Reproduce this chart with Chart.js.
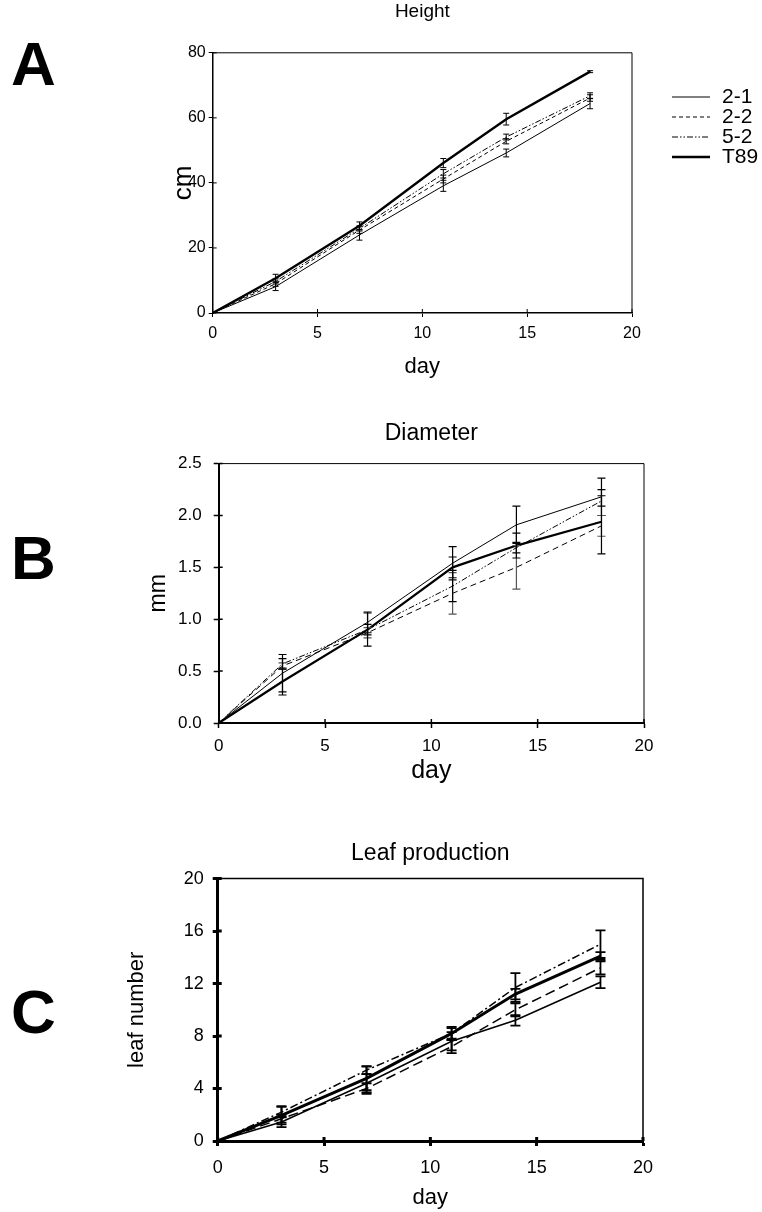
<!DOCTYPE html>
<html>
<head>
<meta charset="utf-8">
<title>Height, diameter and leaf production</title>
<script src="https://cdn.jsdelivr.net/npm/chart.js@4.4.1/dist/chart.umd.min.js"></script>
<style>
  html, body { margin: 0; padding: 0; background: #fff; }
  body { width: 762px; height: 1212px; position: relative; overflow: hidden; font-family: "Liberation Sans", Arial, sans-serif; }
  .panel { position: absolute; font-weight: bold; font-size: 62px; line-height: 1; color: #000; }
  canvas { position: absolute; }
</style>
</head>
<body>
<div class="panel" style="left:11px;top:33px">A</div>
<div class="panel" style="left:11px;top:527px">B</div>
<div class="panel" style="left:11px;top:981px">C</div>
<canvas id="heightChart" style="left:130px;top:0px" width="632" height="395"></canvas>
<canvas id="diameterChart" style="left:110px;top:400px" width="652" height="390"></canvas>
<canvas id="leafChart" style="left:100px;top:820px" width="662" height="392"></canvas>
<script>
// === Data ===
const days = [0, 3, 7, 11, 14, 18];
const lines = ['2-1', '2-2', '5-2', 'T89'];

// Height (cm)
const height21 = [0, 8.1, 24.0, 39.1, 49.2, 64.4];
const height22 = [0, 9.0, 25.5, 41.2, 52.8, 66.1];
const height52 = [0, 9.7, 26.0, 42.8, 54.1, 66.8];
const heightT89 = [0, 10.7, 26.8, 46.1, 59.6, 74.2];
const heightErr21 = [0, 1.2, 1.6, 1.7, 1.2, 1.6];
const heightErr22 = [0, 0.8, 1.0, 1.2, 0.8, 1.0];
const heightErr52 = [0, 0.8, 0.8, 1.3, 0.9, 0.9];
const heightErrT89 = [0, 1.2, 1.2, 1.4, 1.8, 0.3];

// Diameter (mm)
const diam21 = [0, 0.48, 0.97, 1.54, 1.91, 2.18];
const diam22 = [0, 0.55, 0.87, 1.25, 1.50, 1.90];
const diam52 = [0, 0.57, 0.90, 1.32, 1.69, 2.14];
const diamT89 = [0, 0.40, 0.90, 1.50, 1.71, 1.94];
const diamErr21 = [0, 0.18, 0.10, 0.16, 0.18, 0.18];
const diamErr22 = [0, 0.03, 0.05, 0.20, 0.21, 0.10];
const diamErr52 = [0, 0.05, 0.05, 0.15, 0.05, 0.05];
const diamErrT89 = [0, 0.13, 0.16, 0.10, 0.12, 0.31];

// Leaf number
const leaf21 = [0, 1.45, 4.4, 7.6, 9.2, 12.1];
const leaf22 = [0, 1.7, 4.0, 7.2, 10.0, 13.2];
const leaf52 = [0, 2.2, 5.4, 8.2, 11.7, 15.0];
const leafT89 = [0, 1.96, 4.77, 8.2, 11.2, 14.1];
const leafErr21 = [0, 0.4, 0.7, 0.7, 0.4, 0.45];
const leafErr22 = [0, 0.3, 0.4, 0.5, 0.5, 0.5];
const leafErr52 = [0, 0.4, 0.3, 0.4, 1.1, 1.05];
const leafErrT89 = [0, 0.7, 0.9, 0.5, 0.4, 0.3];

const dayTicks = [0, 5, 10, 15, 20];
const heightTicks = [0, 20, 40, 60, 80];
const diamTicks = [0, 0.5, 1.0, 1.5, 2.0, 2.5];
const leafTicks = [0, 4, 8, 12, 16, 20];

const FONT = '"Liberation Sans", Arial, sans-serif';

document.addEventListener('DOMContentLoaded', function () {

  // === Error bars, drawn through the chart's own scales ===
  const errorBars = {
    id: 'errorBars',
    afterDatasetsDraw(chart, args, opts) {
      const ctx = chart.ctx;
      const yScale = chart.scales.y;
      ctx.save();
      chart.data.datasets.forEach((ds, di) => {
        if (!ds.errors) return;
        const meta = chart.getDatasetMeta(di);
        ctx.strokeStyle = ds.errColor || '#000';
        ctx.lineWidth = opts.width || 1;
        ctx.setLineDash([]);
        meta.data.forEach((pt, i) => {
          const e = ds.errors[i];
          if (!e) return;
          const v = ds.data[i].y;
          const top = yScale.getPixelForValue(v + e);
          const bot = yScale.getPixelForValue(v - e);
          const c = opts.cap;
          ctx.beginPath();
          ctx.moveTo(pt.x, top); ctx.lineTo(pt.x, bot);
          ctx.moveTo(pt.x - c, top); ctx.lineTo(pt.x + c, top);
          ctx.moveTo(pt.x - c, bot); ctx.lineTo(pt.x + c, bot);
          ctx.stroke();
        });
      });
      ctx.restore();
    }
  };

  // === Top/right frame and ticks pointing into the plot ===
  const frame = {
    id: 'frame',
    afterDraw(chart, args, opts) {
      const { ctx, chartArea: a, scales } = chart;
      ctx.save();
      ctx.strokeStyle = '#000';
      ctx.lineWidth = opts.width;
      ctx.beginPath();
      ctx.moveTo(a.left, a.top); ctx.lineTo(a.right, a.top); ctx.lineTo(a.right, a.bottom);
      ctx.stroke();
      ctx.lineWidth = opts.tickWidth;
      ctx.beginPath();
      scales.x.ticks.forEach(t => {
        const px = scales.x.getPixelForValue(t.value);
        ctx.moveTo(px, a.bottom); ctx.lineTo(px, a.bottom - opts.inner);
      });
      scales.y.ticks.forEach(t => {
        const py = scales.y.getPixelForValue(t.value);
        ctx.moveTo(a.left, py); ctx.lineTo(a.left + opts.inner, py);
      });
      ctx.stroke();
      ctx.restore();
    }
  };

  // === Legend with line samples (panel A only) ===
  const lineLegend = {
    id: 'lineLegend',
    afterDraw(chart, args, opts) {
      if (!opts.show) return;
      const ctx = chart.ctx;
      ctx.save();
      ctx.font = opts.font;
      ctx.fillStyle = '#000';
      ctx.textBaseline = 'middle';
      chart.data.datasets.forEach((ds, i) => {
        const y = opts.y + i * opts.step;
        ctx.strokeStyle = '#000';
        ctx.lineWidth = ds.borderWidth;
        ctx.setLineDash(ds.borderDash || []);
        ctx.beginPath();
        ctx.moveTo(opts.x, y); ctx.lineTo(opts.x + opts.len, y);
        ctx.stroke();
        ctx.fillText(ds.label, opts.x + opts.len + opts.gap, y);
      });
      ctx.restore();
    }
  };

  function series(values, errors, styles) {
    return lines.map((name, k) => ({
      label: name,
      data: days.map((d, i) => ({ x: d, y: values[k][i] })),
      errors: errors[k],
      errColor: styles[k].err,
      borderColor: '#000',
      borderWidth: styles[k].w,
      borderDash: styles[k].dash,
      pointRadius: 0,
      tension: 0,
      fill: false,
      clip: false
    }));
  }

  function makeChart(id, p) {
    const el = document.getElementById(id);
    return new Chart(el, {
      type: 'line',
      data: { datasets: series(p.values, p.errors, p.styles) },
      options: {
        responsive: false,
        animation: false,
        events: [],
        layout: { padding: { top: 0, right: p.padRight, bottom: 0, left: 0 } },
        plugins: {
          legend: { display: false },
          tooltip: { enabled: false },
          title: {
            display: true,
            text: p.title,
            fullSize: false,
            color: '#000',
            font: { family: FONT, size: p.titleSize, weight: 'normal', lineHeight: 1.2 },
            padding: { top: p.titleTop, bottom: p.titleBottom }
          },
          errorBars: { cap: p.cap, width: p.errWidth },
          frame: { width: p.frameWidth, tickWidth: p.tickWidth, inner: 4 },
          lineLegend: p.legend || { show: false }
        },
        scales: {
          x: {
            type: 'linear', min: 0, max: 20,
            afterBuildTicks: s => { s.ticks = dayTicks.map(v => ({ value: v })); },
            afterFit: s => { s.height = p.xHeight; },
            border: { display: true, color: '#000', width: p.axisWidth },
            grid: { drawOnChartArea: false, drawTicks: true, tickLength: p.tickLen, tickWidth: p.tickWidth, tickColor: '#000' },
            ticks: { color: '#000', padding: p.xPad, maxRotation: 0, font: { family: FONT, size: p.tickSize } },
            title: {
              display: true, text: 'day', color: '#000',
              font: { family: FONT, size: p.xTitleSize, lineHeight: 1.2 },
              padding: { top: 0, bottom: p.xTitleBottom }
            }
          },
          y: {
            type: 'linear', min: 0, max: p.yMax,
            afterBuildTicks: s => { s.ticks = p.yTicks.map(v => ({ value: v })); },
            afterFit: s => { s.width = p.yWidth; },
            border: { display: true, color: '#000', width: p.axisWidth },
            grid: { drawOnChartArea: false, drawTicks: true, tickLength: p.tickLen, tickWidth: p.tickWidth, tickColor: '#000' },
            ticks: { color: '#000', padding: p.yPad, font: { family: FONT, size: p.tickSize }, callback: p.fmt },
            title: {
              display: true, text: p.yTitle, color: '#000',
              font: { family: FONT, size: p.yTitleSize, lineHeight: 1.2 },
              padding: { top: p.yTitleTop, bottom: 0 }
            }
          }
        }
      },
      plugins: [errorBars, frame, lineLegend]
    });
  }

  // === A: Height ===
  makeChart('heightChart', {
    values: [height21, height22, height52, heightT89],
    errors: [heightErr21, heightErr22, heightErr52, heightErrT89],
    styles: [{ w: 1, dash: [] }, { w: 1, dash: [4, 3] }, { w: 1, dash: [6, 2, 1.5, 2, 1.5, 2] }, { w: 2.4, dash: [] }],
    title: 'Height', titleSize: 19, titleTop: 0, titleBottom: 30,
    padRight: 130, xHeight: 82, yWidth: 82.7,
    yMax: 80, yTicks: heightTicks, fmt: v => v,
    tickSize: 16, tickLen: 4, tickWidth: 1, axisWidth: 1.5, frameWidth: 1,
    xPad: 7, yPad: 3,
    xTitleSize: 22, xTitleBottom: 15,
    yTitle: 'cm', yTitleSize: 26, yTitleTop: 38,
    cap: 3, errWidth: 1,
    legend: { show: true, x: 542, y: 97, step: 20, len: 38, gap: 12, font: '21px ' + FONT }
  });

  // === B: Diameter ===
  makeChart('diameterChart', {
    values: [diam21, diam22, diam52, diamT89],
    errors: [diamErr21, diamErr22, diamErr52, diamErrT89],
    styles: [{ w: 1, dash: [] }, { w: 1, dash: [6, 4], err: '#555' }, { w: 1, dash: [6, 2, 1.5, 2, 1.5, 2] }, { w: 2.2, dash: [] }],
    title: 'Diameter', titleSize: 23, titleTop: 20, titleBottom: 16,
    padRight: 118, xHeight: 67, yWidth: 108.7,
    yMax: 2.5, yTicks: diamTicks, fmt: v => v.toFixed(1),
    tickSize: 17, tickLen: 5, tickWidth: 1.5, axisWidth: 2, frameWidth: 1,
    xPad: 8, yPad: 12,
    xTitleSize: 25, xTitleBottom: 4,
    yTitle: 'mm', yTitleSize: 23, yTitleTop: 35,
    cap: 4, errWidth: 1.2
  });

  // === C: Leaf production ===
  makeChart('leafChart', {
    values: [leaf21, leaf22, leaf52, leafT89],
    errors: [leafErr21, leafErr22, leafErr52, leafErrT89],
    styles: [{ w: 1.5, dash: [] }, { w: 1.5, dash: [10, 5] }, { w: 1.5, dash: [8, 3, 2, 3] }, { w: 3, dash: [] }],
    title: 'Leaf production', titleSize: 23, titleTop: 20, titleBottom: 11,
    padRight: 119, xHeight: 71, yWidth: 117.7,
    yMax: 20, yTicks: leafTicks, fmt: v => v,
    tickSize: 18, tickLen: 5, tickWidth: 3, axisWidth: 3, frameWidth: 1.5,
    xPad: 11, yPad: 9,
    xTitleSize: 22, xTitleBottom: 1,
    yTitle: 'leaf number', yTitleSize: 22, yTitleTop: 24,
    cap: 5, errWidth: 1.8
  });

});
</script>
</body>
</html>
